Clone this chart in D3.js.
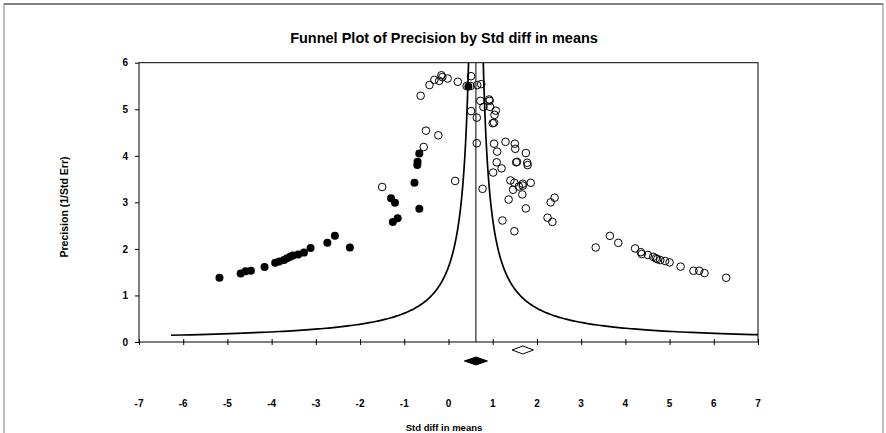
<!DOCTYPE html>
<html>
<head>
<meta charset="utf-8">
<script src="https://cdn.jsdelivr.net/npm/d3@7"></script>
<style>
  body { margin: 0; background: #fff; }
  svg text { font-family: "Liberation Sans", Arial, sans-serif; font-weight: bold; fill: #000; }
</style>
</head>
<body>
<div id="chart"></div>
<script>
// observed studies (open circles)
const obsX = [-1.50, -0.56, -0.63, -0.43, -0.32, -0.21, -0.16, -0.14, -0.02, 0.21, 0.51, 0.41, 0.50, 0.65, 0.74,
  0.51, 0.64, 0.72, 0.79, 0.92, 0.93, 0.94, 1.07, 1.04, 1.00, 1.03, -0.51, -0.23, 0.15, 0.64, 0.77,
  1.03, 1.10, 1.29, 1.50, 1.51, 1.75, 1.09, 1.53, 1.55, 1.78, 1.79, 1.20, 1.01, 1.40, 1.49, 1.59, 1.68, 1.68,
  1.86, 1.46, 1.67, 1.36, 2.40, 2.31, 1.75, 2.24, 2.35, 1.22, 1.49, 3.33, 3.65, 3.84, 4.22, 4.35, 4.37,
  4.51, 4.63, 4.69, 4.72, 4.79, 4.90, 5.00, 5.25, 5.54, 5.67, 5.79, 6.28];
const obsY = [3.33, 4.19, 5.29, 5.52, 5.63, 5.61, 5.73, 5.69, 5.66, 5.59, 5.71, 5.50, 5.50, 5.52, 5.54,
  4.96, 4.82, 5.18, 5.05, 5.21, 5.18, 5.05, 4.97, 4.88, 4.70, 4.71, 4.54, 4.44, 3.46, 4.27, 3.29,
  4.26, 4.09, 4.30, 4.26, 4.15, 4.06, 3.86, 3.86, 3.87, 3.85, 3.80, 3.73, 3.64, 3.47, 3.42, 3.34, 3.36, 3.40,
  3.42, 3.27, 3.17, 3.06, 3.10, 3.00, 2.87, 2.67, 2.58, 2.61, 2.38, 2.03, 2.28, 2.13, 2.01, 1.93, 1.89,
  1.87, 1.83, 1.80, 1.78, 1.76, 1.74, 1.71, 1.62, 1.53, 1.53, 1.48, 1.38];

// imputed studies (filled circles)
const impX = [0.45, -0.66, -0.70, -0.705, -0.77, -0.66, -1.30, -1.21, -1.15, -1.26,
  -5.18, -4.70, -4.59, -4.47, -4.16, -3.92, -3.83, -3.72, -3.65, -3.58, -3.52, -3.40, -3.27, -3.12, -2.74, -2.57, -2.23];
const impY = [5.49, 4.05, 3.87, 3.80, 3.42, 2.86, 3.09, 2.99, 2.66, 2.58,
  1.38, 1.47, 1.52, 1.53, 1.61, 1.70, 1.73, 1.76, 1.80, 1.83, 1.86, 1.88, 1.92, 2.02, 2.13, 2.28, 2.03];

// summary estimates: [point, lower, upper]
const observedSummary = [1.68, 1.44, 1.92];
const adjustedSummary = [0.62, 0.36, 0.88];
const funnelZ = 1.0;

const xTicks = d3.range(-7, 8);
const yTicks = d3.range(0, 7);

const W = 886, H = 433;
const margin = { left: 139, right: 128, top: 62.7, bottom: 91 };
const width = W - margin.left - margin.right;
const height = H - margin.top - margin.bottom;

const svg = d3.select("#chart").append("svg")
  .attr("width", W).attr("height", H);

// outer frame
svg.append("rect")
  .attr("x", 4).attr("y", 4).attr("width", 879).attr("height", 440)
  .attr("fill", "none").attr("stroke", "#808080").attr("stroke-width", 1);
svg.append("line").attr("x1", 4).attr("x2", 883).attr("y1", 4).attr("y2", 4)
  .attr("stroke", "#808080").attr("stroke-width", 2);

svg.append("text")
  .attr("x", 444).attr("y", 43)
  .attr("text-anchor", "middle")
  .style("font-size", "14.5px")
  .text("Funnel Plot of Precision by Std diff in means");

const g = svg.append("g").attr("transform", `translate(${margin.left},${margin.top})`);

const x = d3.scaleLinear().domain([-7, 7]).range([0, width]);
const y = d3.scaleLinear().domain([0, 6]).range([height, 0]);

g.append("clipPath").attr("id", "plotclip")
  .append("rect").attr("width", width).attr("height", height);

// funnel curves
const precs = d3.range(0.145, 6.0001, 0.005);
const line = d3.line().x(d => x(d[0])).y(d => y(d[1]));
const plot = g.append("g").attr("clip-path", "url(#plotclip)");
[-1, 1].forEach(s => {
  plot.append("path")
    .datum(precs.map(p => [adjustedSummary[0] + s * funnelZ / p, p]))
    .attr("d", line)
    .attr("fill", "none").attr("stroke", "#000").attr("stroke-width", 1.7);
});
plot.append("line")
  .attr("x1", x(adjustedSummary[0])).attr("x2", x(adjustedSummary[0]))
  .attr("y1", y(0)).attr("y2", y(6))
  .attr("stroke", "#000").attr("stroke-width", 1);

// box
g.append("rect").attr("width", width).attr("height", height)
  .attr("fill", "none").attr("stroke", "#000").attr("stroke-width", 1);

// axes
const xAxis = g.append("g").attr("transform", `translate(0,${height})`)
  .call(d3.axisBottom(x).tickValues(xTicks).tickSize(3).tickFormat(""));
xAxis.select(".domain").remove();
xAxis.selectAll(".tick line").attr("y1", -3).attr("y2", 3);

g.selectAll(".xlab").data(xTicks).enter().append("text")
  .attr("class", "xlab")
  .attr("x", d => x(d)).attr("y", height + 65)
  .attr("text-anchor", "middle")
  .style("font-size", "10px")
  .text(d => d);

const yAxis = g.append("g")
  .call(d3.axisLeft(y).tickValues(yTicks).tickSize(4).tickPadding(7).tickFormat(d3.format("d")));
yAxis.select(".domain").remove();
yAxis.selectAll("text").style("font-size", "10px").style("font-family", "Liberation Sans, Arial, sans-serif").style("font-weight", "bold");

// axis titles
svg.append("text")
  .attr("x", 444).attr("y", 431)
  .attr("text-anchor", "middle")
  .style("font-size", "9.5px")
  .text("Std diff in means");
svg.append("text")
  .attr("transform", "translate(68,207) rotate(-90)")
  .attr("text-anchor", "middle")
  .style("font-size", "10.5px")
  .text("Precision (1/Std Err)");

// points
g.selectAll(".obs").data(obsX.map((v, i) => [v, obsY[i]])).enter().append("circle")
  .attr("class", "obs")
  .attr("cx", d => x(d[0])).attr("cy", d => y(d[1])).attr("r", 3.8)
  .attr("fill", "none").attr("stroke", "#000").attr("stroke-width", 1);
g.selectAll(".imp").data(impX.map((v, i) => [v, impY[i]])).enter().append("circle")
  .attr("class", "imp")
  .attr("cx", d => x(d[0])).attr("cy", d => y(d[1])).attr("r", 4)
  .attr("fill", "#000");

// summary diamonds
function diamond(s, cy, fill) {
  const pts = [[x(s[1]), cy], [x(s[0]), cy - 4], [x(s[2]), cy], [x(s[0]), cy + 4]];
  g.append("polygon")
    .attr("points", pts.map(p => p.join(",")).join(" "))
    .attr("fill", fill).attr("stroke", "#000").attr("stroke-width", 1);
}
diamond(observedSummary, height + 8, "#fff");
diamond(adjustedSummary, height + 19, "#000");
</script>
</body>
</html>
